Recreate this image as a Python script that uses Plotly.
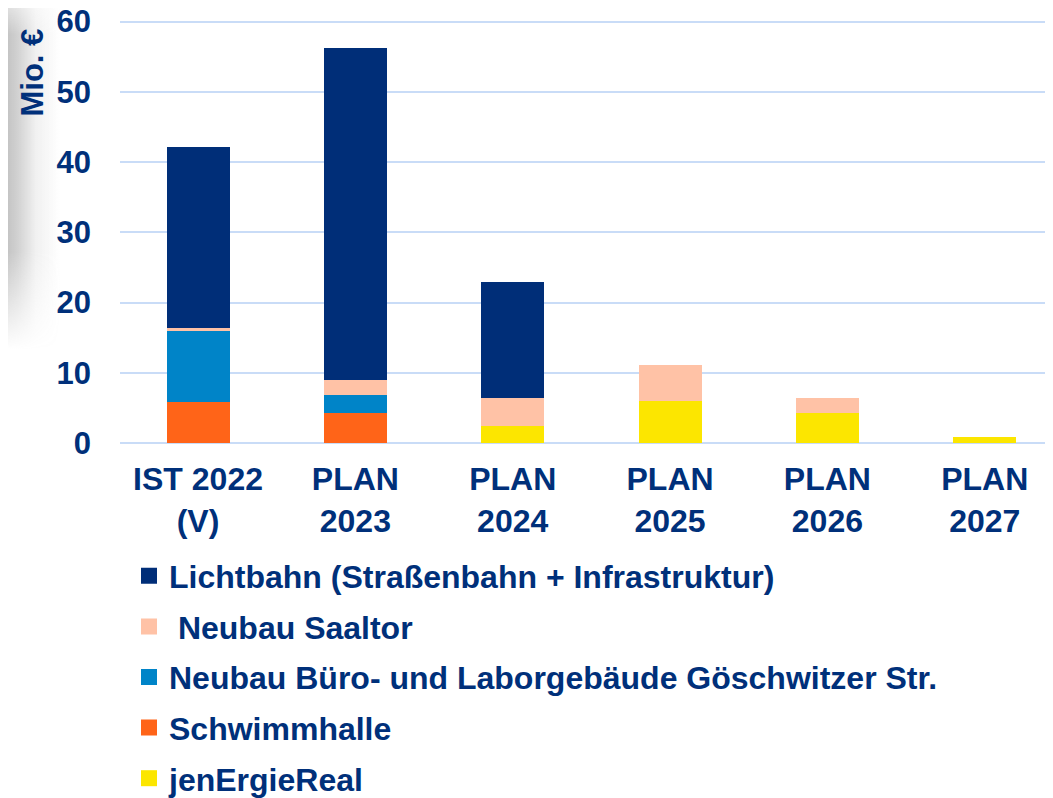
import base64
import plotly.graph_objects as go

categories = ["IST 2022<br>(V)", "PLAN<br>2023", "PLAN<br>2024", "PLAN<br>2025", "PLAN<br>2026", "PLAN<br>2027"]
jenergie = [0, 0, 2.4, 6.0, 4.3, 0.8]
schwimmhalle = [5.9, 4.3, 0, 0, 0, 0]
buero = [10.0, 2.6, 0, 0, 0, 0]
saaltor = [0.5, 2.1, 4.0, 5.1, 2.1, 0]
lichtbahn = [25.8, 47.2, 16.5, 0, 0, 0]

series = [
    ("jenErgieReal", jenergie, "#FCE600"),
    ("Schwimmhalle", schwimmhalle, "#FF6418"),
    ("Neubau Büro- und Laborgebäude Göschwitzer Str.", buero, "#0084C8"),
    (" Neubau Saaltor", saaltor, "#FFC2A6"),
    ("Lichtbahn (Straßenbahn + Infrastruktur)", lichtbahn, "#002E78"),
]

NAVY = "#00307A"
FONT = "Liberation Sans, Arial, sans-serif"

fig = go.Figure()
n = len(series)
for i, (name, vals, col) in enumerate(series):
    fig.add_trace(go.Bar(
        x=categories, y=vals, name=name, legendgroup=f"g{i}",
        showlegend=False,
        marker=dict(color=col, line=dict(width=0)),
    ))
    # legend proxy with a larger square swatch
    fig.add_trace(go.Scatter(
        x=[None], y=[None], mode="markers", name=name, legendgroup=f"g{i}",
        legendrank=n - i, showlegend=True, hoverinfo="skip",
        marker=dict(symbol="square", size=16, color=col, line=dict(width=0)),
    ))

# the page adds an 8px body margin around the figure
OFF = 8
PAGE_W, PAGE_H = 1053, 798
W, H = PAGE_W - OFF, PAGE_H - OFF
Y_TOP = 60.5           # a little headroom so the 60 gridline is drawn
PX_PER_UNIT = 421.5 / 60
ml, mr, mb = 120 - OFF, 0, 354.5
mt = 22 - OFF - (Y_TOP - 60) * PX_PER_UNIT
pw = W - ml - mr
ph = H - mt - mb

def px_x(px):
    return (px - OFF - ml) / pw

def px_y(py):
    return (H - mb - (py - OFF)) / ph

# soft grey shadow at left edge (slide decoration)
svg = '''<svg xmlns="http://www.w3.org/2000/svg" width="60" height="350" viewBox="0 0 60 350">
<defs>
<linearGradient id="h" x1="0" y1="0" x2="1" y2="0">
<stop offset="0" stop-color="#888" stop-opacity="0.3"/>
<stop offset="0.12" stop-color="#888" stop-opacity="0.5"/>
<stop offset="0.3" stop-color="#888" stop-opacity="0.38"/>
<stop offset="0.6" stop-color="#888" stop-opacity="0.12"/>
<stop offset="1" stop-color="#888" stop-opacity="0"/>
</linearGradient>
<linearGradient id="v" x1="0" y1="0" x2="0" y2="1">
<stop offset="0" stop-color="#fff" stop-opacity="0.4"/>
<stop offset="0.1" stop-color="#fff" stop-opacity="1"/>
<stop offset="0.72" stop-color="#fff" stop-opacity="1"/>
<stop offset="1" stop-color="#fff" stop-opacity="0"/>
</linearGradient>
<mask id="m"><rect width="60" height="350" fill="url(#v)"/></mask>
</defs>
<rect width="60" height="350" fill="url(#h)" mask="url(#m)"/>
</svg>'''
src = "data:image/svg+xml;base64," + base64.b64encode(svg.encode()).decode()

fig.update_layout(
    width=W, height=H,
    margin=dict(l=ml, r=mr, t=mt, b=mb, pad=0, autoexpand=False),
    barmode="stack",
    bargap=0.6,
    plot_bgcolor="white",
    paper_bgcolor="white",
    font=dict(family=FONT, color=NAVY, size=32, weight="bold"),
    xaxis=dict(
        range=[-0.496, 5.434],
        showgrid=False, showline=False, ticks="",
        tickangle=0,
        tickfont=dict(size=32, family=FONT, color=NAVY, weight="bold"),
        ticklabelstandoff=14,
        ticklabeloverflow="allow",
    ),
    yaxis=dict(
        range=[0, Y_TOP], tickvals=[0, 10, 20, 30, 40, 50, 60],
        showgrid=True, gridcolor="#C9DCF7", gridwidth=2,
        zeroline=True, zerolinecolor="#C9DCF7", zerolinewidth=2,
        showline=False, ticks="",
        tickfont=dict(size=31, family=FONT, color=NAVY, weight="bold"),
        ticklabelstandoff=28,
        ticklabeloverflow="allow",
    ),
    legend=dict(
        x=px_x(129), y=px_y(549), xanchor="left", yanchor="top",
        traceorder="grouped", tracegroupgap=6,
        font=dict(size=32, family=FONT, color=NAVY, weight="bold"),
        bgcolor="rgba(0,0,0,0)",
        itemsizing="trace", itemwidth=30,
    ),
    showlegend=True,
    annotations=[dict(
        text="Mio. €", textangle=-90, showarrow=False,
        xref="paper", yref="paper", x=px_x(33), y=px_y(73),
        xanchor="center", yanchor="middle",
        font=dict(size=31, family=FONT, color=NAVY, weight="bold"),
    )],
    images=[dict(
        source=src, xref="paper", yref="paper",
        x=px_x(0), y=px_y(0), sizex=60 / pw, sizey=350 / ph,
        xanchor="left", yanchor="top", sizing="stretch", layer="below",
    )],
)

fig.write_html("out.html")
